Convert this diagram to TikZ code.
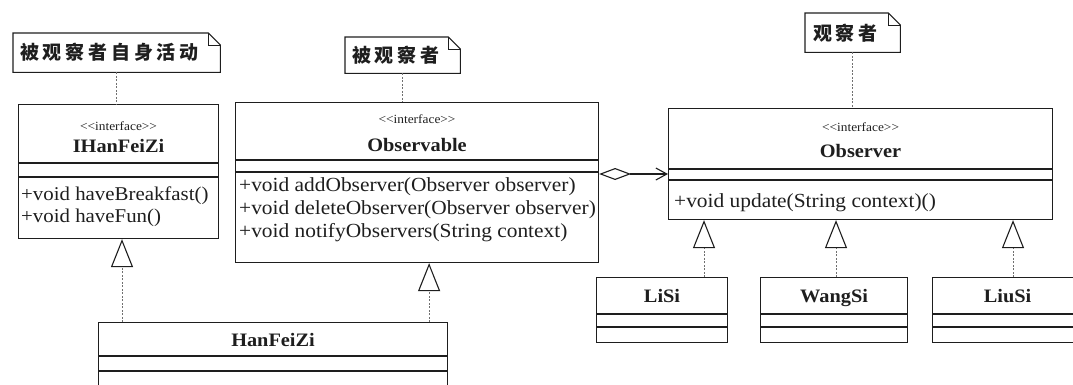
\documentclass[tikz,border=0pt]{standalone}
\usepackage{fontspec}
\setmainfont{Liberation Serif}[FakeStretch=1.07]
\newfontfamily\cjk{Noto Sans CJK SC}[LetterSpace=20]
\usetikzlibrary{arrows.meta,calc}
\definecolor{Ink}{HTML}{1E1E1E}
\definecolor{Dots}{HTML}{707070}
\newcommand{\stereo}[1]{<\kern0pt<#1>\kern0pt>}

\begin{document}
\begin{tikzpicture}[x=1pt,y=-1pt,color=Ink,
  cls/.style={draw=Ink,line width=1.1pt,inner sep=0pt,anchor=north west},
  ster/.style={font=\fontsize{12.5}{14}\selectfont,anchor=base},
  ttl/.style={font=\fontsize{19}{22}\selectfont\bfseries,anchor=base},
  meth/.style={font=\fontsize{20}{23}\selectfont,align=left,inner sep=0pt,anchor=north west},
  memo/.style={inner ysep=0pt,anchor=north west,align=left,
               font=\cjk\fontsize{19}{22}\selectfont\bfseries},
  dep/.style={Dots,line width=0.8pt,dash pattern=on 2pt off 1.5pt},
  real/.style={dep,-{Triangle[open,length=28pt,width=22pt,line width=1.1pt,color=Ink]}},
  agg/.style={Ink,line width=1.1pt,
              {Diamond[open,length=32pt,width=12pt]}-{Straight Barb[length=11pt,width=12pt]}}]
\useasboundingbox (0,0) rectangle (1073,384);
\clip (0,0) rectangle (1073,384);

% notes
\node[memo,inner xsep=7pt,text width=193pt,minimum height=39pt] (n1) at (13,33) {被观察者自身活动};
\node[memo,inner xsep=7pt,text width=101pt,minimum height=36pt] (n2) at (345,37) {被观察者};
\node[memo,inner xsep=8pt,text width=79pt,minimum height=39pt] (n3) at (805,13) {观察者};
\foreach \n in {n1,n2,n3}{%
  \draw[line width=1.1pt] (\n.north west) -- ($(\n.north east)+(-12,0)$)
    -- ($(\n.north east)+(0,12)$) -- (\n.south east) -- (\n.south west) -- cycle;
  \draw[line width=0.8pt] ($(\n.north east)+(-12,0)$) |- ($(\n.north east)+(0,12)$);}

% classes
\node[cls,minimum width=200,minimum height=134] (ihan) at (18,104) {};
\node[cls,minimum width=363,minimum height=160] (obsv) at (235,102) {};
\node[cls,minimum width=384,minimum height=111] (obs) at (668,108) {};
\node[cls,minimum width=131,minimum height=65] (lisi) at (596,277) {};
\node[cls,minimum width=147,minimum height=65] (wangsi) at (760,277) {};
\node[cls,minimum width=150,minimum height=65] (liusi) at (932,277) {};
\node[cls,minimum width=349,minimum height=90] (hfz) at (98,322) {};
\foreach \n/\a/\b in {ihan/59/73,obsv/58/70,obs/61/72,lisi/37/50,wangsi/37/50,liusi/37/50,hfz/34/49}{%
  \draw[line width=1.1pt] (\n.north west) ++(0,\a) coordinate (p) -- (p -| \n.east);
  \draw[line width=1.1pt] (\n.north west) ++(0,\b) coordinate (p) -- (p -| \n.east);}

\node[ster] (ihan-s) at ($(ihan.north)+(0,26)$) {\stereo{interface}};
\node[ttl] (ihan-t) at ($(ihan.north)+(0,48)$) {IHanFeiZi};
\node[meth,font=\fontsize{19.5}{21.5}\selectfont] (ihan-m) at ($(ihan.north west)+(3,83)$)
  {+void haveBreakfast()\\+void haveFun()};

\node[ster] (obsv-s) at ($(obsv.north)+(0,21)$) {\stereo{interface}};
\node[ttl] (obsv-t) at ($(obsv.north)+(0,49)$) {Observable};
\node[meth] (obsv-m) at ($(obsv.north west)+(4,75)$)
  {+void addObserver(Observer observer)\\+void deleteObserver(Observer observer)\\
   +void notifyObservers(String context)};

\node[ster] (obs-s) at ($(obs.north)+(0,23)$) {\stereo{interface}};
\node[ttl] (obs-t) at ($(obs.north)+(0,49)$) {Observer};
\node[meth] (obs-m) at ($(obs.north west)+(6,85)$) {+void update(String context)()};

\node[ttl] (lisi-t) at ($(lisi.north)+(0,25)$) {LiSi};
\node[ttl] (wangsi-t) at ($(wangsi.north)+(0,25)$) {WangSi};
\node[ttl] (liusi-t) at ($(liusi.north)+(0,25)$) {LiuSi};
\node[ttl] (hfz-t) at ($(hfz.north)+(0,24)$) {HanFeiZi};

% note links
\foreach \n/\c in {n1/ihan,n2/obsv,n3/obs}
  \draw[dep] (\n.south) -- (\n.south |- \c.north);

% realizations
\coordinate (r1) at ($(hfz.north west)+(24,0)$);
\draw[real] (r1) -- (r1 |- ihan.south);
\coordinate (r2) at ($(hfz.north east)+(-19,0)$);
\draw[real] (r2) -- (r2 |- obsv.south);
\foreach \n/\dx in {lisi/36,wangsi/168,liusi/345}{%
  \coordinate (q) at ($(obs.south west)+(\dx,0)$);
  \draw[real] (q |- \n.north) -- (q);}

% aggregation
\coordinate (g) at ($(obsv.north east)+(0,72)$);
\draw[agg] (g) -- (g -| obs.west);
\end{tikzpicture}
\end{document}
